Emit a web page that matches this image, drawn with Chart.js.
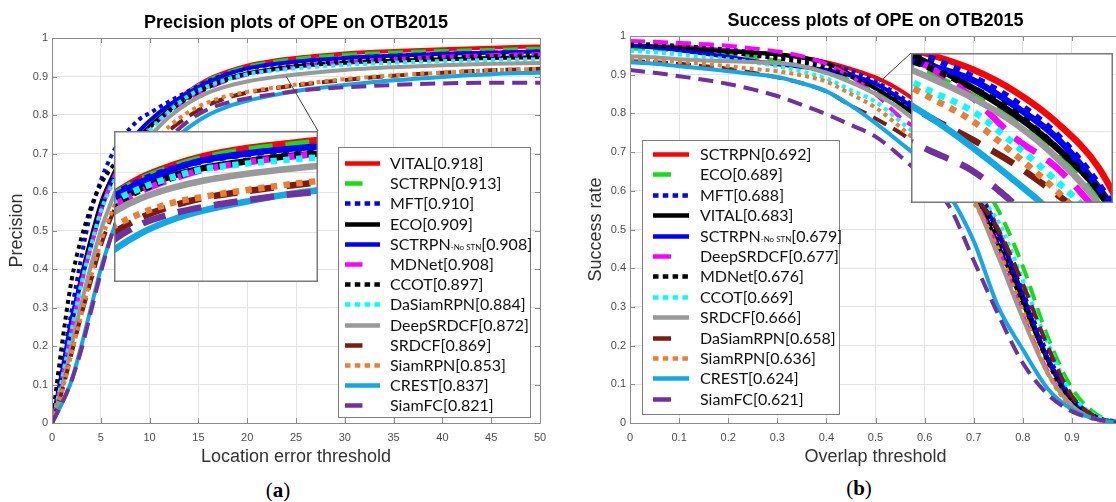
<!DOCTYPE html>
<html><head><meta charset="utf-8">
<script src="https://cdn.jsdelivr.net/npm/chart.js@4.4.1/dist/chart.umd.min.js"></script>
<style>
html,body{margin:0;padding:0;background:#fff;overflow:hidden;width:1116px;height:502px;position:relative;}
canvas{position:absolute;}
.cap{position:absolute;font-family:'Liberation Serif','DejaVu Serif',serif;font-size:21px;color:#000;transform:translateX(-50%);white-space:nowrap;}
</style></head><body>
<canvas id="pMain" width="556" height="475" style="left:0px;top:0px"></canvas>
<canvas id="pInset" width="204" height="151" style="left:114px;top:131px"></canvas>
<canvas id="sMain" width="580" height="475" style="left:556px;top:0px"></canvas>
<canvas id="sInset" width="202" height="150" style="left:911px;top:53px"></canvas>
<div class="cap" style="left:278px;top:478px">(<b>a</b>)</div>
<div class="cap" style="left:859px;top:476px">(<b>b</b>)</div>
<script>
// ---------------- DATA ----------------
const precisionThresholds = [0,1,2,3,4,5,6,7,8,9,10,12,14,16,18,20,23,26,30,35,40,45,50];
const precisionTrackers = ['VITAL','SCTRPN','MFT','ECO','SCTRPN-No STN','MDNet','CCOT','DaSiamRPN','DeepSRDCF','SRDCF','SiamRPN','CREST','SiamFC'];
const precisionScores = ['0.918','0.913','0.910','0.909','0.908','0.908','0.897','0.884','0.872','0.869','0.853','0.837','0.821'];
const precVITAL = [0,0.11,0.25,0.37,0.47,0.56,0.63,0.68,0.72,0.745,0.77,0.82,0.862,0.893,0.913,0.928,0.942,0.951,0.96,0.966,0.971,0.975,0.978];
const precSCTRPN = [0,0.11,0.25,0.37,0.47,0.56,0.63,0.68,0.72,0.745,0.77,0.818,0.86,0.89,0.91,0.925,0.939,0.948,0.956,0.962,0.966,0.969,0.972];
const precMFT = [0,0.14,0.29,0.43,0.55,0.63,0.69,0.735,0.765,0.79,0.805,0.835,0.862,0.888,0.907,0.92,0.932,0.94,0.948,0.954,0.959,0.962,0.965];
const precECO = [0,0.12,0.26,0.38,0.48,0.57,0.63,0.68,0.72,0.745,0.77,0.812,0.848,0.875,0.895,0.908,0.92,0.929,0.936,0.941,0.945,0.948,0.95];
const precSCTRPNNoSTN = [0,0.13,0.27,0.37,0.46,0.55,0.62,0.68,0.73,0.76,0.785,0.826,0.858,0.885,0.906,0.921,0.933,0.941,0.948,0.954,0.959,0.962,0.965];
const precMDNet = [0,0.11,0.24,0.36,0.46,0.55,0.62,0.67,0.71,0.74,0.765,0.808,0.843,0.87,0.89,0.905,0.918,0.928,0.937,0.945,0.951,0.955,0.958];
const precCCOT = [0,0.2,0.37,0.48,0.56,0.62,0.66,0.69,0.72,0.745,0.768,0.81,0.845,0.872,0.892,0.907,0.92,0.93,0.938,0.945,0.95,0.953,0.955];
const precDaSiamRPN = [0,0.11,0.24,0.36,0.46,0.55,0.61,0.66,0.7,0.73,0.76,0.81,0.85,0.875,0.893,0.906,0.916,0.923,0.93,0.936,0.94,0.943,0.945];
const precDeepSRDCF = [0,0.09,0.2,0.31,0.41,0.5,0.57,0.63,0.68,0.72,0.745,0.795,0.832,0.858,0.875,0.887,0.899,0.908,0.917,0.924,0.929,0.933,0.935];
const precSRDCF = [0,0.08,0.18,0.28,0.37,0.46,0.53,0.59,0.64,0.68,0.71,0.76,0.797,0.826,0.845,0.858,0.87,0.88,0.891,0.902,0.91,0.916,0.92];
const precSiamRPN = [0,0.08,0.18,0.28,0.38,0.47,0.54,0.6,0.645,0.685,0.715,0.77,0.808,0.833,0.85,0.86,0.872,0.882,0.893,0.903,0.91,0.916,0.92];
const precCREST = [0,0.05,0.11,0.2,0.3,0.4,0.48,0.55,0.6,0.64,0.67,0.725,0.768,0.8,0.822,0.837,0.853,0.866,0.878,0.89,0.899,0.906,0.91];
const precSiamFC = [0,0.05,0.11,0.19,0.29,0.39,0.48,0.55,0.61,0.65,0.68,0.74,0.785,0.815,0.832,0.843,0.855,0.865,0.872,0.878,0.882,0.884,0.884];

const overlapThresholds = [0,0.05,0.1,0.15,0.2,0.25,0.3,0.35,0.4,0.45,0.5,0.55,0.6,0.65,0.7,0.75,0.8,0.85,0.9,0.95,1];
const successTrackers = ['SCTRPN','ECO','MFT','VITAL','SCTRPN-No STN','DeepSRDCF','MDNet','CCOT','SRDCF','DaSiamRPN','SiamRPN','CREST','SiamFC'];
const successScores = ['0.692','0.689','0.688','0.683','0.679','0.677','0.676','0.669','0.666','0.658','0.636','0.624','0.621'];
const succSCTRPN = [0.975,0.974,0.972,0.968,0.963,0.958,0.952,0.944,0.932,0.915,0.893,0.86,0.813,0.745,0.625,0.5,0.33,0.165,0.055,0.012,0];
const succECO = [0.968,0.966,0.963,0.958,0.953,0.947,0.936,0.922,0.905,0.885,0.853,0.815,0.765,0.705,0.645,0.55,0.405,0.225,0.09,0.022,0];
const succMFT = [0.98,0.978,0.975,0.97,0.965,0.958,0.95,0.94,0.928,0.91,0.882,0.845,0.795,0.72,0.62,0.49,0.34,0.18,0.065,0.015,0];
const succVITAL = [0.975,0.972,0.968,0.964,0.96,0.957,0.953,0.945,0.93,0.9,0.865,0.825,0.775,0.71,0.6,0.46,0.31,0.165,0.06,0.015,0];
const succSCTRPNNoSTN = [0.975,0.97,0.963,0.955,0.946,0.936,0.927,0.92,0.912,0.898,0.877,0.838,0.79,0.715,0.62,0.49,0.33,0.17,0.065,0.015,0];
const succDeepSRDCF = [0.987,0.985,0.982,0.979,0.975,0.968,0.96,0.948,0.928,0.895,0.85,0.79,0.745,0.675,0.58,0.45,0.28,0.135,0.045,0.01,0];
const succMDNet = [0.978,0.975,0.97,0.964,0.957,0.95,0.942,0.932,0.918,0.895,0.865,0.828,0.775,0.71,0.61,0.47,0.32,0.16,0.055,0.012,0];
const succCCOT = [0.962,0.958,0.952,0.946,0.94,0.932,0.922,0.908,0.89,0.86,0.83,0.78,0.725,0.665,0.6,0.52,0.37,0.21,0.075,0.018,0];
const succSRDCF = [0.948,0.945,0.94,0.937,0.935,0.933,0.93,0.922,0.905,0.88,0.85,0.812,0.76,0.69,0.58,0.43,0.27,0.13,0.045,0.01,0];
const succDaSiamRPN = [0.935,0.932,0.928,0.922,0.915,0.905,0.893,0.878,0.857,0.82,0.787,0.75,0.705,0.655,0.59,0.5,0.36,0.2,0.07,0.015,0];
const succSiamRPN = [0.94,0.937,0.933,0.928,0.922,0.915,0.909,0.898,0.882,0.85,0.815,0.765,0.71,0.645,0.57,0.45,0.29,0.13,0.04,0.008,0];
const succCREST = [0.932,0.928,0.922,0.916,0.909,0.902,0.894,0.878,0.857,0.82,0.775,0.725,0.67,0.59,0.47,0.3,0.19,0.09,0.035,0.01,0];
const succSiamFC = [0.912,0.905,0.896,0.887,0.876,0.862,0.845,0.822,0.798,0.77,0.74,0.69,0.63,0.56,0.42,0.28,0.155,0.075,0.03,0.01,0];

const precisionTicks = [0,5,10,15,20,25,30,35,40,45,50];

const precisionSeries = [precVITAL,precSCTRPN,precMFT,precECO,precSCTRPNNoSTN,precMDNet,precCCOT,precDaSiamRPN,precDeepSRDCF,precSRDCF,precSiamRPN,precCREST,precSiamFC];
const successSeries = [succSCTRPN,succECO,succMFT,succVITAL,succSCTRPNNoSTN,succDeepSRDCF,succMDNet,succCCOT,succSRDCF,succDaSiamRPN,succSiamRPN,succCREST,succSiamFC];

// ---------------- STYLE (by rank) ----------------
const rankColors = ['#ff0000','#10e010','#0000ff','#000000','#0000ff','#ff00ff','#000000','#00ffff','#999999','#7c1c0e','#ed7d31','#10a8e6','#7030a0'];
const rankStyles = ['solid','dash','dot','solid','solid','dash','dot','dot','solid','dash','dot','solid','dash'];

Chart.defaults.font.family = "'Liberation Sans', Arial, sans-serif";

function dashFor(st, s) {
  if (st === 'dash') return [15*s, 8*s];
  if (st === 'dot') return [4*s, 4*s];
  return [];
}
function buildDatasets(xs, series, names, lw, s) {
  return series.map((ys, i) => ({
    label: names[i],
    data: xs.map((x, j) => ({x: x, y: ys[j]})),
    borderColor: rankColors[i],
    backgroundColor: rankColors[i],
    borderWidth: lw,
    borderDash: dashFor(rankStyles[i], s),
    borderCapStyle: 'butt',
    borderJoinStyle: 'round',
    pointRadius: 0,
    fill: false,
    cubicInterpolationMode: 'monotone',
    order: -i
  }));
}
const tickFmt = v => String(Math.round(v * 10) / 10);

function framePlugin(cfg) {
  return {
    id: 'frame',
    beforeDraw(chart) {
      const c = chart.ctx; c.save(); c.fillStyle = '#fff'; c.fillRect(0, 0, chart.width, chart.height); c.restore();
    },
    afterDatasetsDraw(chart) {
      const c = chart.ctx, a = chart.chartArea, xs = chart.scales.x, ys = chart.scales.y;
      c.save();
      if (cfg.connector) {
        c.strokeStyle = '#404040'; c.lineWidth = 1;
        c.beginPath();
        c.moveTo(xs.getPixelForValue(cfg.connector.x), ys.getPixelForValue(cfg.connector.y));
        c.lineTo(cfg.connector.px, cfg.connector.py);
        c.stroke();
      }
      c.strokeStyle = '#8c8c8c'; c.lineWidth = 1;
      c.strokeRect(Math.round(a.left) + 0.5, Math.round(a.top) + 0.5, Math.round(a.right - a.left), Math.round(a.bottom - a.top));
      c.beginPath();
      xs.ticks.forEach(t => {
        const p = Math.round(xs.getPixelForValue(t.value)) + 0.5;
        c.moveTo(p, a.bottom); c.lineTo(p, a.bottom - 5);
        c.moveTo(p, a.top); c.lineTo(p, a.top + 5);
      });
      ys.ticks.forEach(t => {
        const p = Math.round(ys.getPixelForValue(t.value)) + 0.5;
        c.moveTo(a.left, p); c.lineTo(a.left + 5, p);
        c.moveTo(a.right, p); c.lineTo(a.right - 5, p);
      });
      c.stroke();
      c.restore();
    },
    afterDraw(chart) {
      const L = cfg.legend; if (!L) return;
      const c = chart.ctx;
      c.save();
      c.fillStyle = '#fff'; c.fillRect(L.x, L.y, L.w, L.h);
      c.strokeStyle = '#7f7f7f'; c.lineWidth = 1; c.strokeRect(L.x + 0.5, L.y + 0.5, L.w, L.h);
      L.names.forEach((name, i) => {
        const cy = Math.round(L.y + L.first + i * L.gap) + 0.5;
        const x0 = L.x + L.sx;
        c.strokeStyle = rankColors[i]; c.lineWidth = 4.5; c.lineCap = 'butt';
        const st = rankStyles[i];
        c.setLineDash(st === 'dot' ? [5.5, 4.3] : []);
        c.beginPath();
        c.moveTo(x0, cy);
        c.lineTo(x0 + (st === 'dash' ? L.sw / 2 : L.sw), cy);
        c.stroke();
        c.setLineDash([]);
        c.fillStyle = '#111'; c.textBaseline = 'middle'; c.textAlign = 'left';
        let tx = L.x + L.tx;
        const parts = name.split('-No STN');
        c.font = L.font;
        c.fillText(parts[0], tx, cy); tx += c.measureText(parts[0]).width;
        if (parts.length > 1) {
          c.font = L.smallFont;
          c.fillText('-No STN', tx, cy + 3); tx += c.measureText('-No STN').width;
          c.font = L.font;
        }
        c.fillText('[' + L.scores[i] + ']', tx, cy);
      });
      c.restore();
    }
  };
}

function mainOptions(o) {
  return {
    responsive: false, animation: false, events: [],
    layout: {padding: {left: 0, right: o.padRight, top: 0, bottom: 0}},
    plugins: {
      legend: {display: false}, tooltip: {enabled: false},
      title: {display: true, fullSize: false, text: o.title, color: '#000',
        font: {size: 18, weight: 'bold'}, padding: {top: o.titleTop, bottom: o.titleBottom}}
    },
    scales: {
      x: {type: 'linear', min: o.xmin, max: o.xmax,
        ticks: {stepSize: o.xstep, autoSkip: false, maxRotation: 0, padding: 8, color: '#4d4d4d', font: {size: 11}, callback: o.xfmt},
        grid: {color: '#e4e4e4', drawTicks: false}, border: {display: false},
        title: {display: true, text: o.xtitle, color: '#333', font: {size: 18}, padding: {top: 0, bottom: 7}},
        afterFit: s => { s.height = 52; }},
      y: {type: 'linear', min: 0, max: 1,
        ticks: {stepSize: 0.1, autoSkip: false, padding: 4, color: '#4d4d4d', font: {size: 11}, callback: tickFmt},
        grid: {color: '#e4e4e4', drawTicks: false}, border: {display: false},
        title: {display: true, text: o.ytitle, color: '#333', font: {size: 18}, padding: {top: o.yTitlePad, bottom: 0}},
        afterFit: s => { s.width = o.yWidth; }}
    }
  };
}
function insetOptions(o) {
  return {
    responsive: false, animation: false, events: [],
    layout: {padding: 0},
    plugins: {legend: {display: false}, tooltip: {enabled: false}, title: {display: false}},
    scales: {
      x: {type: 'linear', min: o.xmin, max: o.xmax, ticks: {display: false, stepSize: o.xstep},
        grid: {color: '#e4e4e4', drawTicks: false}, border: {display: false}, afterFit: s => { s.height = 0; }},
      y: {type: 'linear', min: o.ymin, max: o.ymax, ticks: {display: false, stepSize: 0.1},
        grid: {color: '#e4e4e4', drawTicks: false}, border: {display: false}, afterFit: s => { s.width = 0; }}
    }
  };
}
const insetBorder = {
  id: 'insetBorder',
  beforeDraw(chart) { const c = chart.ctx; c.save(); c.fillStyle = '#fff'; c.fillRect(0, 0, chart.width, chart.height); c.restore(); },
  afterDraw(chart) { const c = chart.ctx; c.save(); c.strokeStyle = '#7a7a7a'; c.lineWidth = 1.5; c.strokeRect(0.75, 0.75, chart.width - 1.5, chart.height - 1.5); c.restore(); }
};

// ---------------- PRECISION ----------------
new Chart(document.getElementById('pMain'), {
  type: 'line',
  data: {datasets: buildDatasets(precisionThresholds, precisionSeries, precisionTrackers, 4, 1)},
  options: mainOptions({padRight: 16, title: 'Precision plots of OPE on OTB2015', titleTop: 12, titleBottom: 4.4,
    xmin: 0, xmax: 50, xstep: 5, xfmt: v => String(v), xtitle: 'Location error threshold', ytitle: 'Precision', yTitlePad: 6, yWidth: 52}),
  plugins: [framePlugin({
    connector: {x: 24, y: 0.9, px: 318, py: 131},
    legend: {x: 338, y: 147, w: 192, h: 270, first: 16, gap: 20.2, sx: 7, sw: 35, tx: 52,
      names: precisionTrackers, scores: precisionScores, font: "16px Lato", smallFont: "8px Lato"}
  })]
});
new Chart(document.getElementById('pInset'), {
  type: 'line',
  data: {datasets: buildDatasets(precisionThresholds, precisionSeries, precisionTrackers, 6.5, 1.6)},
  options: insetOptions({xmin: 14.2, xmax: 27.5, xstep: 5, ymin: 0.718, ymax: 0.97}),
  plugins: [insetBorder]
});

// ---------------- SUCCESS ----------------
new Chart(document.getElementById('sMain'), {
  type: 'line',
  data: {datasets: buildDatasets(overlapThresholds, successSeries, successTrackers, 4, 1)},
  options: mainOptions({padRight: 15, title: 'Success plots of OPE on OTB2015', titleTop: 10.5, titleBottom: 3.9,
    xmin: 0, xmax: 1, xstep: 0.1, xfmt: tickFmt, xtitle: 'Overlap threshold', ytitle: 'Success rate', yTitlePad: 29, yWidth: 74}),
  plugins: [framePlugin({
    connector: {x: 0.504, y: 0.876, px: 355, py: 53},
    legend: {x: 86, y: 140, w: 197, h: 274, first: 14, gap: 20.4, sx: 11, sw: 36, tx: 58,
      names: successTrackers, scores: successScores, font: "16px Lato", smallFont: "8px Lato"}
  })]
});
new Chart(document.getElementById('sInset'), {
  type: 'line',
  data: {datasets: buildDatasets(overlapThresholds, successSeries, successTrackers, 6.5, 1.7)},
  options: insetOptions({xmin: 0.426, xmax: 0.667, xstep: 0.1, ymin: 0.692, ymax: 0.918}),
  plugins: [insetBorder]
});
</script>
</body></html>
